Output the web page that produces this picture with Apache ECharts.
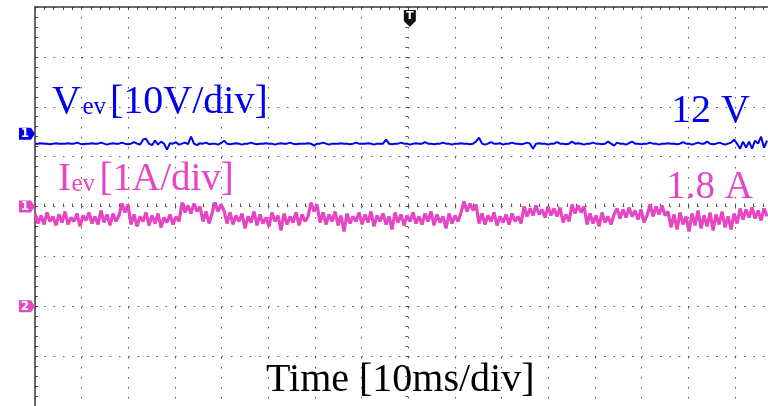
<!DOCTYPE html>
<html>
<head>
    <meta charset='utf-8' />
    <title>scope</title>
</head>
<body style='margin:0;width:768px;height:406px;background:#fff;'>
<div id='scope' style='width:768px;height:406px;'></div>

<script src="https://cdn.jsdelivr.net/npm/echarts@6/dist/echarts.min.js"></script>

<script type='text/javascript'>
    // sample step in ms (10 ms/div), screen starts 80 ms before trigger
    var tStart = -80;
    var tEnd = 77.07;   // right edge of the cropped screen
    var dt = 0.6429;

    // Vev trace, in divisions from screen centre (10 V/div)
    var vevDiv = [
        1.26,1.26,1.27,1.26,1.26,1.25,1.26,1.27,1.26,1.26,
        1.26,1.27,1.26,1.26,1.28,1.26,1.25,1.26,1.26,1.27,
        1.26,1.26,1.28,1.26,1.24,1.26,1.27,1.26,1.26,1.28,
        1.26,1.25,1.26,1.29,1.26,1.24,1.34,1.36,1.26,1.23,
        1.32,1.24,1.30,1.26,1.14,1.27,1.26,1.29,1.24,1.26,
        1.28,1.25,1.40,1.26,1.23,1.27,1.26,1.28,1.25,1.26,
        1.26,1.24,1.27,1.32,1.26,1.25,1.26,1.27,1.26,1.24,
        1.26,1.26,1.28,1.26,1.25,1.26,1.26,1.27,1.26,1.26,
        1.24,1.26,1.27,1.26,1.26,1.28,1.26,1.25,1.26,1.26,
        1.26,1.27,1.26,1.22,1.26,1.26,1.28,1.26,1.24,1.26,
        1.26,1.26,1.27,1.26,1.26,1.25,1.26,1.28,1.26,1.26,
        1.26,1.27,1.26,1.24,1.26,1.26,1.26,1.34,1.26,1.25,
        1.26,1.26,1.28,1.26,1.26,1.24,1.26,1.27,1.26,1.26,
        1.29,1.26,1.26,1.25,1.26,1.26,1.28,1.26,1.26,1.24,
        1.26,1.26,1.27,1.26,1.26,1.25,1.26,1.30,1.38,1.26,
        1.24,1.26,1.29,1.26,1.26,1.27,1.24,1.26,1.26,1.28,
        1.26,1.26,1.25,1.26,1.28,1.26,1.16,1.26,1.27,1.26,
        1.26,1.24,1.26,1.26,1.29,1.26,1.26,1.25,1.26,1.30,
        1.26,1.27,1.26,1.24,1.26,1.26,1.28,1.26,1.26,1.25,
        1.26,1.30,1.26,1.22,1.28,1.26,1.26,1.24,1.27,1.30,
        1.26,1.26,1.25,1.26,1.26,1.28,1.26,1.26,1.24,1.26,
        1.26,1.27,1.26,1.26,1.25,1.26,1.29,1.26,1.26,1.24,
        1.26,1.28,1.26,1.26,1.30,1.26,1.25,1.26,1.28,1.26,
        1.24,1.26,1.28,1.34,1.26,1.16,1.30,1.18,1.30,1.16,
        1.32,1.26,1.40,1.18,1.32
    ];

    // Iev trace, in divisions from screen centre (1 A/div)
    var ievDiv = [
        -0.14,-0.34,-0.18,-0.36,-0.12,-0.30,-0.20,-0.38,-0.16,-0.32,
        -0.10,-0.36,-0.22,-0.30,-0.14,-0.40,-0.18,-0.28,-0.12,-0.34,
        -0.20,-0.36,-0.08,-0.32,-0.16,-0.38,-0.14,-0.30,-0.18,
        0.06,-0.12,0.04,
        -0.36,-0.16,-0.40,-0.20,-0.30,-0.12,-0.38,-0.18,-0.34,-0.14,
        -0.42,-0.22,-0.32,-0.16,-0.36,-0.20,-0.30,
        0.08,-0.12,0.02,-0.14,0.06,-0.10,0.00,
        -0.30,-0.10,-0.34,-0.14,
        0.08,-0.10,0.04,-0.08,
        -0.34,-0.12,-0.36,-0.18,-0.30,-0.14,-0.44,-0.20,-0.32,-0.10,
        -0.38,-0.16,-0.34,-0.22,-0.40,-0.12,-0.30,-0.18,-0.48,-0.14,
        -0.36,-0.20,-0.32,-0.12,-0.38,-0.16,-0.30,-0.20,
        0.08,-0.10,0.04,
        -0.32,-0.12,-0.36,-0.16,-0.30,-0.10,-0.38,-0.18,-0.50,-0.14,
        -0.34,-0.20,-0.30,-0.12,-0.36,-0.16,-0.32,-0.10,-0.40,-0.18,
        -0.30,-0.14,-0.36,-0.20,-0.46,-0.12,-0.32,-0.16,-0.38,-0.18,
        -0.30,-0.12,-0.34,-0.20,-0.36,-0.14,-0.30,-0.10,-0.38,-0.16,
        -0.32,-0.20,-0.44,-0.14,-0.34,-0.18,-0.30,-0.12,
        0.10,-0.10,0.06,-0.08,0.04,
        -0.34,-0.14,-0.36,-0.18,-0.30,-0.12,-0.38,-0.20,-0.32,-0.16,
        -0.36,-0.14,-0.30,-0.20,-0.34,
        0.00,-0.20,-0.04,-0.18,0.02,-0.16,-0.06,-0.22,0.00,-0.18,
        -0.04,-0.20,-0.02,
        -0.32,-0.16,-0.30,
        0.04,-0.14,0.02,-0.12,0.00,
        -0.36,-0.14,-0.34,-0.18,-0.40,-0.12,-0.32,-0.20,-0.36,-0.16,
        -0.04,-0.24,-0.06,-0.22,-0.02,-0.20,-0.08,-0.26,-0.06,
        -0.32,-0.18,
        0.04,-0.20,0.00,-0.16,0.02,-0.18,
        -0.10,-0.42,-0.16,-0.46,-0.12,-0.36,-0.20,-0.50,-0.14,-0.38,
        -0.08,-0.44,-0.18,-0.40,-0.12,-0.48,-0.16,-0.36,-0.10,-0.42,
        -0.20,-0.46,-0.14,-0.34,
        -0.04,-0.26,-0.06,-0.22,-0.02,-0.24,-0.08,-0.28,-0.04,-0.20
    ];

    // channel ground markers (divisions) and trigger time (ms)
    var chMarkers = [
        { label: '1', level: 1.46, color: '#0000ee' },
        { label: '1', level: 0, color: '#e645c3' },
        { label: '2', level: -2, color: '#e645c3' }
    ];
    var triggerTime = 0;

    var blue = '#0000ee';
    var pink = '#e645c3';
    var serif = '"Liberation Serif", "Times New Roman", serif';

    function toPairs(arr) {
        return arr.map(function (v, i) { return [tStart + i * dt, v]; });
    }

    var dotGrey = '#555';

    var option = {
        animation: false,
        backgroundColor: '#fff',
        grid: { left: 35, top: 7, right: 0, height: 400 },
        xAxis: [
            {
                type: 'value', min: tStart, max: tEnd, interval: 10,
                position: 'top',
                axisLine: { show: true, onZero: false, lineStyle: { color: '#3a3a3a', width: 1.5 } },
                axisTick: { show: true, inside: true, length: 3, lineStyle: { color: '#444' } },
                minorTick: { show: true, splitNumber: 5, length: 3, lineStyle: { color: '#444' } },
                axisLabel: { show: false },
                splitLine: { show: true, lineStyle: { color: dotGrey, width: 1, type: [1.5, 8.5] } }
            },
            {
                type: 'value', min: tStart, max: tEnd, interval: 10,
                axisLine: { show: true, onZero: true, lineStyle: { opacity: 0 } },
                axisTick: { show: true, inside: true, length: 3, lineStyle: { color: '#555' } },
                minorTick: { show: true, splitNumber: 5, length: 3, lineStyle: { color: '#555' } },
                axisLabel: { show: false },
                splitLine: { show: false }
            }
        ],
        yAxis: [
            {
                type: 'value', min: -4, max: 4, interval: 1,
                position: 'left',
                axisLine: { show: true, onZero: false, lineStyle: { color: '#3a3a3a', width: 1.5 } },
                axisTick: { show: true, inside: true, length: 3, lineStyle: { color: '#444' } },
                minorTick: { show: true, splitNumber: 5, length: 3, lineStyle: { color: '#444' } },
                axisLabel: { show: false },
                splitLine: { show: true, lineStyle: { color: dotGrey, width: 1, type: [1.5, 7.83] } }
            },
            {
                type: 'value', min: -4, max: 4, interval: 1,
                axisLine: { show: true, onZero: true, lineStyle: { opacity: 0 } },
                axisTick: { show: true, inside: true, length: 3, lineStyle: { color: '#555' } },
                minorTick: { show: true, splitNumber: 5, length: 3, lineStyle: { color: '#555' } },
                axisLabel: { show: false },
                splitLine: { show: false }
            }
        ],
        series: [
            {
                name: 'Iev', type: 'line', showSymbol: false, symbol: 'none',
                data: toPairs(ievDiv),
                lineStyle: { color: pink, width: 3.2 },
                z: 3
            },
            {
                name: 'Vev', type: 'line', showSymbol: false, symbol: 'none',
                data: toPairs(vevDiv),
                lineStyle: { color: blue, width: 2 },
                z: 4
            }
        ]
    };

    var myChart = echarts.init(document.getElementById('scope'));
    myChart.setOption(option);

    // labels and scope markers
    var graphics = [
        { type: 'text', x: 52, y: 82.5, style: { text: 'V', fill: blue, fontSize: 40, fontFamily: serif, verticalAlign: 'top', textVerticalAlign: 'top' } },
        { type: 'text', x: 82.5, y: 95, style: { text: 'ev', fill: blue, fontSize: 25, fontFamily: serif, verticalAlign: 'top', textVerticalAlign: 'top' } },
        { type: 'text', x: 110, y: 82.5, style: { text: '[10V/div]', fill: blue, fontSize: 40, fontFamily: serif, verticalAlign: 'top', textVerticalAlign: 'top' } },
        { type: 'text', x: 750, y: 91, style: { text: '12 V', fill: blue, fontSize: 40, fontFamily: serif, align: 'right', textAlign: 'right', verticalAlign: 'top', textVerticalAlign: 'top' } },

        { type: 'text', x: 58, y: 160, style: { text: 'I', fill: pink, fontSize: 39, fontFamily: serif, verticalAlign: 'top', textVerticalAlign: 'top' } },
        { type: 'text', x: 71.5, y: 172, style: { text: 'ev', fill: pink, fontSize: 25, fontFamily: serif, verticalAlign: 'top', textVerticalAlign: 'top' } },
        { type: 'text', x: 99.5, y: 160, style: { text: '[1A/div]', fill: pink, fontSize: 39, fontFamily: serif, verticalAlign: 'top', textVerticalAlign: 'top' } },
        { type: 'text', x: 753, y: 168.5, style: { text: '1.8 A', fill: pink, fontSize: 39, fontFamily: serif, align: 'right', textAlign: 'right', verticalAlign: 'top', textVerticalAlign: 'top' } },

        { type: 'text', x: 266, y: 360, style: { text: 'Time [10ms/div]', fill: '#000', fontSize: 40, fontFamily: serif, verticalAlign: 'top', textVerticalAlign: 'top' } }
    ];

    chMarkers.forEach(function (m) {
        var p = myChart.convertToPixel({ gridIndex: 0 }, [tStart, m.level]);
        graphics.push({
            type: 'polygon', x: p[0], y: p[1],
            shape: { points: [[-16, -6], [-4, -6], [0, 0], [-4, 6], [-16, 6]] },
            style: { fill: m.color }, z: 10
        });
        graphics.push({
            type: 'text', x: p[0] - 10, y: p[1] + 0.5, z: 11,
            style: { text: m.label, fill: '#fff', fontSize: 12, fontWeight: 'bold', fontFamily: 'DejaVu Sans',
                align: 'center', textAlign: 'center', verticalAlign: 'middle', textVerticalAlign: 'middle' }
        });
    });

    var tp = myChart.convertToPixel({ gridIndex: 0 }, [triggerTime, 4]);
    graphics.push({
        type: 'polygon', x: tp[0] + 1.5, y: tp[1] + 3,
        shape: { points: [[-6, 0], [6, 0], [6, 11], [0, 17], [-6, 11]] },
        style: { fill: '#111' }, z: 10
    });
    graphics.push({
        type: 'text', x: tp[0] + 1.5, y: tp[1] + 9, z: 11,
        style: { text: 'T', fill: '#fff', fontSize: 11, fontWeight: 'bold', fontFamily: 'DejaVu Sans',
            align: 'center', textAlign: 'center', verticalAlign: 'middle', textVerticalAlign: 'middle' }
    });

    myChart.setOption({ graphic: graphics });
</script>
</body>
</html>
